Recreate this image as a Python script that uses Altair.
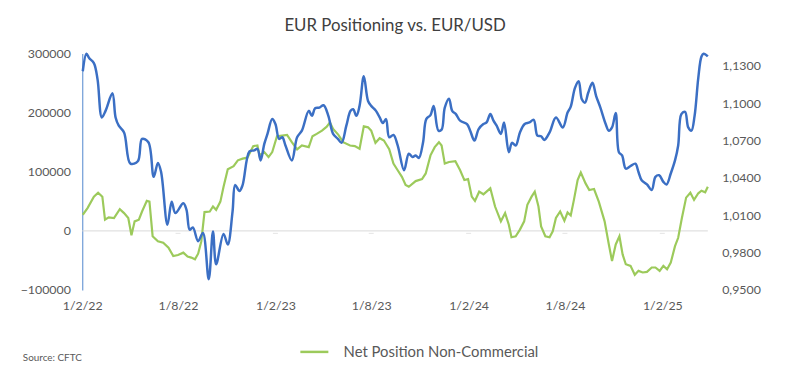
import altair as alt
import pandas as pd

START = "2022-02-01"

# EUR/USD (right axis): days since start, value
blue_days = [1, 8, 13, 22, 29, 37, 44, 57, 63, 69, 79, 91, 105, 113, 125, 135, 143, 149, 161, 169, 176,
             191, 197, 203, 209, 219, 228, 239, 247, 253, 267, 275, 284, 289, 297, 303, 316, 325, 331, 337,
             344, 350, 359, 365, 372, 378, 384, 396, 406, 415, 428, 434, 440, 448, 456, 465, 474, 483, 490,
             499, 507, 512, 518, 524, 532, 540, 546, 555, 562, 568, 574, 580, 588, 596, 608, 617, 624, 630,
             636, 644, 650, 658, 664, 673, 679, 685, 693, 699, 706, 714, 727, 733, 741, 749, 758, 764, 771,
             777, 783, 791, 797, 806, 812, 819, 827, 836, 845, 853, 860, 867, 873, 883, 895, 908, 917, 923,
             931, 938, 944, 950, 956, 964, 971, 979, 989, 995, 1001, 1008, 1014, 1020, 1027, 1036, 1045,
             1051, 1057, 1067, 1076, 1083, 1090, 1098, 1104, 1112, 1120, 1126, 1132, 1139, 1145, 1151,
             1157, 1164, 1170, 1174, 1182]
blue_vals = [1.1257, 1.1398, 1.1363, 1.1323, 1.119, 1.0886, 1.0939, 1.108, 1.0886, 1.082, 1.0766, 1.0515,
             1.0534, 1.0714, 1.0687, 1.0409, 1.0521, 1.0448, 1.0025, 1.021, 1.0118, 1.0197, 1.0144, 0.9985,
             1.0003, 0.9892, 0.9959, 0.9587, 0.9971, 0.9707, 0.9951, 0.9866, 1.013, 1.0343, 1.0295, 1.0343,
             1.0613, 1.0621, 1.0634, 1.0541, 1.0674, 1.0754, 1.0873, 1.0833, 1.0714, 1.0727, 1.0661, 1.0541,
             1.0727, 1.078, 1.0939, 1.0899, 1.096, 1.0965, 1.0984, 1.0899, 1.0754, 1.0714, 1.0682, 1.082,
             1.0939, 1.0952, 1.0899, 1.0979, 1.1217, 1.1018, 1.0979, 1.0939, 1.0886, 1.0841, 1.0873, 1.0727,
             1.0746, 1.0661, 1.0462, 1.0595, 1.0568, 1.0581, 1.056, 1.0687, 1.0873, 1.0905, 1.0979, 1.078,
             1.0788, 1.0965, 1.1037, 1.0939, 1.0913, 1.086, 1.0833, 1.078, 1.07, 1.0793, 1.0833, 1.0846,
             1.0913, 1.086, 1.082, 1.0754, 1.0846, 1.0607, 1.0682, 1.0661, 1.0766, 1.0833, 1.0846, 1.0867,
             1.074, 1.0735, 1.0705, 1.0766, 1.0886, 1.0806, 1.0925, 1.0973, 1.1124, 1.1177, 1.1032, 1.1005,
             1.1084, 1.1164, 1.1058, 1.0965, 1.0833, 1.078, 1.0806, 1.0921, 1.0607, 1.0581, 1.0475, 1.0496,
             1.0515, 1.0448, 1.0382, 1.0348, 1.0303, 1.0409, 1.0422, 1.0369, 1.0348, 1.0436, 1.0541, 1.0661,
             1.0913, 1.0931, 1.0806, 1.078, 1.0899, 1.1204, 1.1376, 1.1398, 1.1376]

# Net Position Non-Commercial (left axis)
green_days = [1, 10, 22, 30, 38, 43, 50, 60, 71, 79, 87, 93, 99, 107, 113, 122, 127, 133, 143, 153, 163,
              172, 181, 191, 199, 206, 213, 219, 225, 231, 241, 247, 253, 261, 267, 275, 286, 294, 303, 312,
              323, 331, 335, 344, 352, 359, 368, 378, 387, 396, 406, 415, 428, 435, 443, 453, 462, 468, 474,
              484, 493, 506, 515, 524, 532, 540, 546, 554, 562, 570, 574, 580, 588, 596, 604, 611, 617, 630,
              642, 649, 658, 666, 674, 679, 685, 693, 705, 714, 722, 729, 736, 742, 750, 758, 771, 780, 791,
              799, 806, 811, 819, 827, 835, 841, 849, 855, 862, 867, 875, 883, 889, 895, 903, 911, 917, 923,
              929, 936, 942, 951, 958, 967, 976, 987, 995, 1001, 1008, 1015, 1021, 1027, 1036, 1044, 1051,
              1059, 1067, 1076, 1083, 1091, 1098, 1105, 1112, 1120, 1126, 1133, 1141, 1149, 1156, 1164,
              1170, 1177, 1182]
green_vals = [27300, 38500, 57900, 64600, 57900, 18900, 22800, 21800, 36800, 30100, 21800, -7400, 16100,
              18900, 32800, 50700, 49500, -9000, -17400, -20100, -28500, -42500, -40800, -36800, -43500,
              -45200, -48000, -38500, -17400, 31800, 32800, 41200, 35600, 49500, 74600, 104300, 109300,
              119300, 122200, 123800, 143300, 144400, 127700, 133200, 124800, 133200, 160000, 161200, 162300,
              150000, 137700, 144400, 141600, 160000, 164000, 169500, 176200, 183400, 172400, 162300, 150000,
              144400, 143300, 138900, 176700, 175100, 169500, 148900, 156700, 152800, 147000, 138000, 113800,
              102600, 91400, 77500, 74600, 84200, 87500, 97100, 127700, 141600, 150000, 144400, 113800,
              116500, 117700, 102600, 85900, 87500, 57900, 50700, 66300, 61900, 72000, 41200, 16100, 30100,
              10500, -10700, -9000, 2200, 16100, 44000, 57900, 66300, 41200, 7700, -9000, -10700, -700, 21800,
              32800, 17200, 31100, 26100, 52400, 85900, 98700, 80300, 69100, 70800, 49500, 16100, -22900,
              -50900, -22900, -9000, -39700, -56400, -59200, -74300, -67600, -70300, -69300, -61900, -61900,
              -67600, -59200, -64800, -53600, -25800, -11700, 21800, 56200, 64600, 52400, 63600, 67900,
              65300, 74600]

tick_dates = ["2022-02-01", "2022-08-01", "2023-02-01", "2023-08-01", "2024-02-01", "2024-08-01", "2025-02-01"]
left_ticks = [-100000, -50000, 0, 50000, 100000, 150000, 200000, 250000, 300000]
right_ticks = [0.95, 0.98, 1.01, 1.04, 1.07, 1.10, 1.13]
series_name = "Net Position Non-Commercial"

start = pd.Timestamp(START)
blue_df = pd.DataFrame({"date": [(start + pd.Timedelta(days=d)).strftime("%Y-%m-%d") for d in blue_days],
                        "v": blue_vals})
green_df = pd.DataFrame({"date": [(start + pd.Timedelta(days=d)).strftime("%Y-%m-%d") for d in green_days],
                         "v": green_vals, "s": series_name})
ticks_df = pd.DataFrame({"date": tick_dates[1:]})

def ms(s):
    return int(pd.Timestamp(s, tz="UTC").value // 10**6)

x_domain = [ms(START), ms(blue_df["date"].iloc[-1])]
FONT = "Lato"
TXT = "#595959"
GREEN = "#9cca5b"
BLUE = "#3b6fc4"

x_scale = alt.Scale(type="utc", domain=x_domain)
x_axis = alt.Axis(values=[ms(t) for t in tick_dates], labelExpr="utcFormat(datum.value, '%-d/%-m/%y')",
                  domain=False, ticks=False, grid=False, labelPadding=10, labelFlush=False,
                  labelOverlap=False, title=None, labelFontSize=12.5, labelColor=TXT, labelFont=FONT)

W, H = 632, 239

zero = alt.Chart(pd.DataFrame({"y": [0]})).mark_rule(color="#d9d9d9", strokeWidth=1).encode(
    y=alt.Y("y:Q", scale=alt.Scale(domain=[-100000, 300000], nice=False)))
tk = alt.Chart(ticks_df).mark_tick(color="#d9d9d9", size=5, thickness=1, yOffset=2.5).encode(
    x=alt.X("date:T", scale=x_scale, axis=x_axis),
    y=alt.datum(0))
green = alt.Chart(green_df).mark_line(strokeWidth=2.2, interpolate="linear").encode(
    x=alt.X("date:T", scale=x_scale, axis=x_axis),
    y=alt.Y("v:Q", scale=alt.Scale(domain=[-100000, 300000], nice=False, zero=False),
            axis=alt.Axis(values=left_ticks, format="d", domain=True, domainColor="#6d9bd6", domainWidth=1.2,
                          ticks=False, grid=False, labelPadding=12, title=None,
                          labelFontSize=12.5, labelColor=TXT, labelFont=FONT)),
    color=alt.Color("s:N", scale=alt.Scale(domain=[series_name], range=[GREEN]),
                    legend=alt.Legend(orient="none", legendX=219, legendY=286, title=None,
                                      symbolType="stroke", symbolStrokeWidth=2.5, symbolSize=800,
                                      labelFontSize=15, labelColor=TXT, labelFont=FONT, labelOffset=14,
                                      labelLimit=400, padding=0)))
left = alt.layer(zero, tk, green)

blue = alt.Chart(blue_df).mark_line(color=BLUE, strokeWidth=2.5, interpolate="catmull-rom").encode(
    x=alt.X("date:T", scale=x_scale, axis=x_axis),
    y=alt.Y("v:Q", scale=alt.Scale(domain=[0.95, 1.14], nice=False, zero=False),
            axis=alt.Axis(orient="right", values=right_ticks, domain=False, ticks=False, grid=False,
                          labelExpr="replace(format(datum.value, '.4f'), '.', ',')",
                          labelPadding=14, title=None, labelFontSize=12.5, labelColor=TXT, labelFont=FONT)))

source = alt.Chart(pd.DataFrame({"t": ["Source: CFTC"]})).mark_text(
    align="left", baseline="middle", fontSize=10, color=TXT, font=FONT).encode(
    text="t:N", x=alt.value(-60), y=alt.value(308))

chart = alt.layer(left, blue, source).resolve_scale(y="independent").properties(
    width=W, height=H,
    autosize=alt.AutoSizeParams(type="none"),
    padding={"left": 75, "top": 44, "right": 81, "bottom": 93},
    title=alt.Title("EUR Positioning vs. EUR/USD", fontSize=17, font=FONT, fontWeight="normal",
                    color="#404040", anchor="middle", offset=13),
).configure_view(stroke=None)

chart.save("out.html", embed_options={"renderer": "svg", "actions": False})
